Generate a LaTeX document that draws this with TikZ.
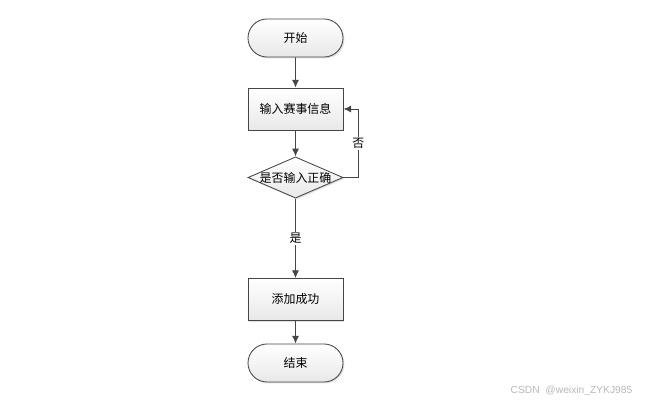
\documentclass[tikz,border=0pt]{standalone}
\usepackage{fontspec}
\setmainfont{Liberation Sans}
\newfontfamily\cjk{Noto Sans CJK SC}
\usetikzlibrary{arrows.meta,shapes.geometric,shapes.misc,shadows}
\definecolor{edgegray}{HTML}{454545}
\begin{document}
\begin{tikzpicture}[>={Latex[length=5.5pt,width=5pt]},
				x=0.025cm, y=-0.025cm,
				font=\cjk\fontsize{8.5}{10}\selectfont,
				base/.style = {draw=edgegray, line width=0.6pt, top color=white, bottom color=gray!18,
					drop shadow={shadow xshift=1pt, shadow yshift=-1pt, fill=gray!40, opacity=0.6}},
				terminal/.style = {base, rounded rectangle, minimum width=2.375cm, minimum height=0.95cm, inner sep=0pt},
				process/.style = {base, rectangle, minimum width=2.375cm, minimum height=1.05cm, inner sep=0pt},
				decision/.style = {base, diamond, minimum width=2.375cm, minimum height=1.03cm, inner sep=0pt},
				flow/.style = {->, draw=edgegray, line width=0.7pt},
				tag/.style = {fill=white, inner sep=1pt}
			]
			\fill[white] (0,0) rectangle (647,402);
			\node[terminal] (start) at (295.5,38) {开始};
			\node[process] (input) at (295.5,109) {输入赛事信息};
			\node[decision, label={center:是否输入正确}] (check) at (295.5,177.5) {};
			\node[process] (done) at (295.5,299.5) {添加成功};
			\node[terminal] (stop) at (295.5,363) {结束};
			\draw[flow] (start) -- (input);
			\draw[flow] (input) -- (check);
			\draw[flow] (check) -- node[tag] {是} (done);
			\draw[flow] (done) -- (stop);
			\draw[flow] (check.east) -- ++(15,0) |- node[tag, pos=0.25] {否} (input.east);
			\node[text=gray!55, font=\fontsize{7.3}{9}\selectfont] (mark) at (571.5,391) {CSDN\ \ @weixin\_ZYKJ985};
		\end{tikzpicture}
\end{document}
